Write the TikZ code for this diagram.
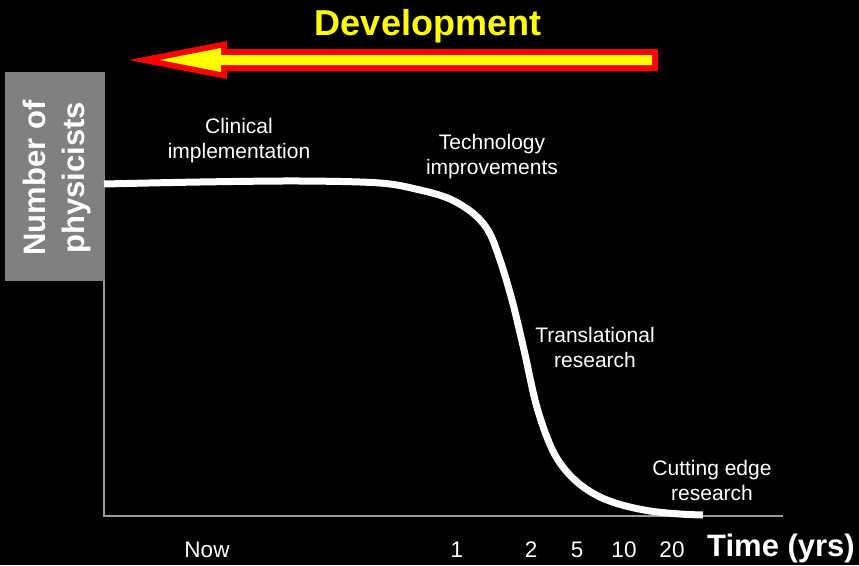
\documentclass[tikz,border=0pt]{standalone}
\usepackage{fontspec}
\setmainfont{Liberation Sans}
\definecolor{devyellow}{HTML}{FFFF00}
\definecolor{devred}{HTML}{FF0000}
\definecolor{boxgray}{HTML}{808080}
\definecolor{axisgray}{HTML}{9A9A9A}
\begin{document}
\begin{tikzpicture}[x=1pt,y=-1pt,
  lbl/.style={text=white,align=center,inner sep=0pt,font=\fontsize{21}{25}\selectfont},
  tick/.style={text=white,inner sep=0pt,font=\fontsize{22.5}{26}\selectfont},
  axisline/.style={draw=axisgray,line width=1.6pt}]
\fill[black] (0,0) rectangle (859,565);
\useasboundingbox (0,0) rectangle (859,565);
% development arrow
\fill[devred] (129,60) -- (227,41) -- (227,49) -- (658,49) -- (658,71) -- (227,71) -- (227,79) -- cycle;
\fill[devyellow] (160,60) -- (221,48) -- (221,55) -- (652,55) -- (652,65) -- (221,65) -- (221,72) -- cycle;
\node[text=devyellow,inner sep=0pt,font=\fontsize{36}{40}\bfseries] (dev) at (428,26) {Development};
% y label box
\fill[boxgray] (5,72) rectangle (105,281);
\node[rotate=90,text=white,align=center,inner sep=0pt,font=\fontsize{31}{39}\bfseries] (ylab) at (57,178) {Number of\\physicists};
% axes
\coordinate (o) at (104,516);
\coordinate (ytop) at (104,281);
\coordinate (xend) at (783,516);
\draw[axisline] (ytop) -- (o) -- (xend);
% curve
\draw[white,line width=7pt] plot[smooth,tension=0.55] coordinates {
 (104,184) (200,182) (300,181) (380,183) (420,190) (450,199) (474,214) (489,232) (500,260) (512,300) (524,350) (535,400) (545,432) (555,455) (567,472) (582,486) (600,497) (622,505) (650,511) (680,514) (703,515)};
% labels
\node[lbl] (clin) at (239,141) {Clinical\\implementation};
\node[lbl] (tech) at (492,157) {Technology\\improvements};
\node[lbl] (trans) at (595,347) {Translational\\research};
\node[lbl] (cut) at (712,480) {Cutting edge\\research};
% ticks
\node[tick] (now) at (207,550) {Now};
\node[tick] (t1) at (457,550) {1};
\node[tick] (t2) at (531,550) {2};
\node[tick] (t5) at (577,550) {5};
\node[tick] (t10) at (624,550) {10};
\node[tick] (t20) at (672,550) {20};
\node[text=white,inner sep=0pt,font=\fontsize{31}{36}\bfseries] (time) at (781,548) {Time (yrs)};
\end{tikzpicture}
\end{document}
